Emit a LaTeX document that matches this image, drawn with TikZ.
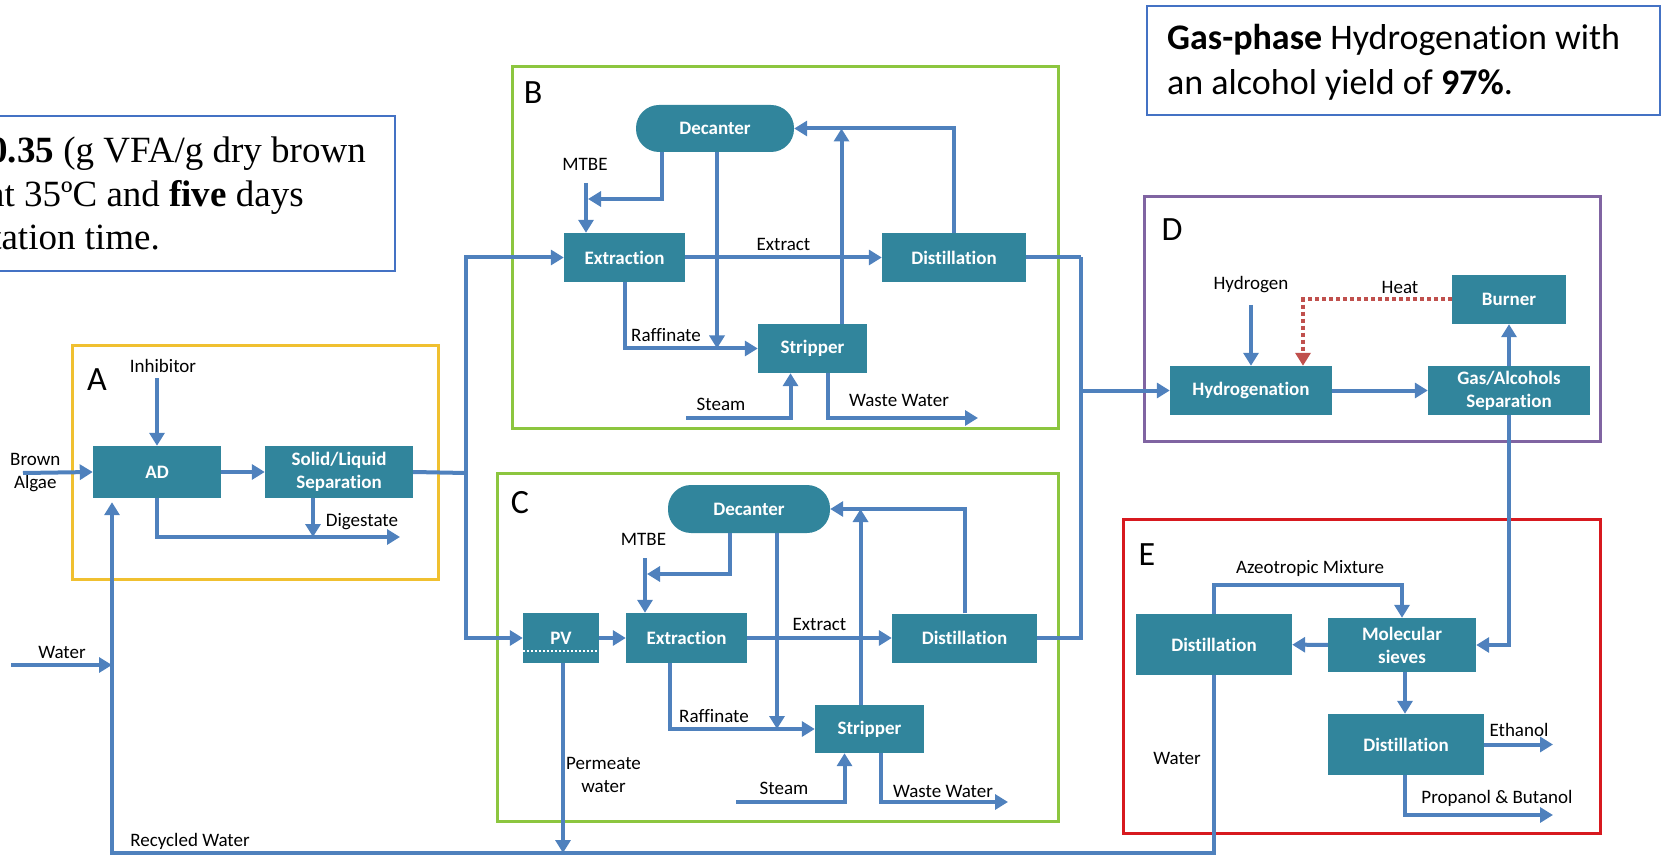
\documentclass[tikz,border=0pt]{standalone}
\usepackage{fontspec}
\setmainfont{Carlito}[Ligatures=NoCommon]
\newfontfamily\timesfont{Liberation Serif}
\usepackage{tikz}
\usetikzlibrary{arrows.meta}
\usetikzlibrary{calc}
\usetikzlibrary{positioning}
\definecolor{unitcol}{HTML}{31859C}
\definecolor{flowcol}{HTML}{4F81BD}
\definecolor{heatcol}{HTML}{C0504D}
\definecolor{notecol}{HTML}{4472C4}
\definecolor{zoneAcol}{HTML}{F0C030}
\definecolor{zoneBcol}{HTML}{8CC63F}
\definecolor{zoneDcol}{HTML}{8064A2}
\definecolor{zoneEcol}{HTML}{D7191F}
\newcommand\labsize{\fontsize{19}{23}\selectfont}
\tikzstyle{unit} = [rectangle, fill=unitcol, text=white, font=\labsize\bfseries,
    inner sep=0pt, text centered]
\tikzstyle{decant} = [unit, rounded corners=23pt]
\tikzstyle{lab} = [font=\labsize, text=black, inner sep=0pt]
\tikzstyle{letter} = [font=\fontsize{34}{40}\selectfont, inner sep=0pt]
\tikzstyle{line} = [draw, flowcol, line width=4pt, -{Triangle[length=13pt,width=15pt]}]
\tikzstyle{pipe} = [draw, flowcol, line width=4pt]
\tikzstyle{heat} = [draw, heatcol, line width=4pt, dash pattern=on 4pt off 3pt,
    -{Triangle[length=13pt,width=15pt]}]
\tikzstyle{zone} = [draw, line width=3pt]
\tikzstyle{note} = [draw, notecol, line width=2pt]

\begin{document}
\begin{tikzpicture}[x=1pt, y=-1pt, every text node part/.style={align=center}]
\useasboundingbox (0,0) rectangle (1662,858);
% notes
	\draw[note] (-10,116) rectangle (395,271);
	\node[anchor=base east, inner sep=0pt, font=\timesfont\fontsize{37}{44}\selectfont] (noteA1) at (366,163) {\textbf{0.35} (g VFA/g dry brown};
	\node[anchor=base east, inner sep=0pt, font=\timesfont\fontsize{37}{44}\selectfont] (noteA2) at (304,207) {at 35ºC and \textbf{five} days};
	\node[anchor=base east, inner sep=0pt, font=\timesfont\fontsize{37}{44}\selectfont] (noteA3) at (160,250) {tation time.};
	\draw[note] (1147,6) rectangle (1660,115);
	\node[anchor=base west, inner sep=0pt, font=\fontsize{36}{43}\selectfont] (noteD1) at (1167,50) {\textbf{Gas-phase} Hydrogenation with};
	\node[anchor=base west, inner sep=0pt, font=\fontsize{36}{43}\selectfont] (noteD2) at (1167,95) {an alcohol yield of \textbf{97\%}.};

% A
	\draw[zone, zoneAcol] (72,346) rectangle (438,579);
	\node[letter] (lA) at (97,380) {A};
	\node[unit, minimum width=128pt, minimum height=52pt] (AD) at (157,472) {AD};
	\node[unit, minimum width=148pt, minimum height=52pt] (sepA) at (339,472) {Solid/Liquid\\Separation};
	\node[lab, anchor=west, align=left] (algae) at (10,473) {Brown\\Algae};
	\node[lab] (inhib) at (163,366) {Inhibitor};
	\node[lab] (digest) at (362,522) {Digestate};
	\coordinate (algIn) at (23,473);
	\coordinate (inhibIn) at (157,378);
	\coordinate (digOut) at (400,537);

	\path [line] (algIn) -- (AD.west);
	\path [line] (inhibIn) -- (AD.north);
	\path [line] (AD) -- (sepA);
	\path [line] (AD.south) |- (digOut);
	\path [line] ([xshift=-26pt]sepA.south) -- ([xshift=-26pt]sepA.south |- digOut);

% B
	\draw[zone, zoneBcol] (512,67) rectangle (1058,428);
	\node[letter] (lB) at (533,93) {B};
	\node[decant, minimum width=158pt, minimum height=47pt] (decB) at (715,128.5) {Decanter};
	\node[unit, minimum width=121pt, minimum height=49pt] (extB) at (624.5,257.5) {Extraction};
	\node[unit, minimum width=144pt, minimum height=49pt] (disB) at (954,257.5) {Distillation};
	\node[unit, minimum width=109pt, minimum height=49pt] (strB) at (812.5,348.5) {Stripper};
	\node[lab] (mtbeB) at (585,164) {MTBE};
	\node[lab] (rafB) at (666,335) {Raffinate};
	\node[lab] (steamBl) at (721,404) {Steam};
	\node[lab] (wasteBl) at (899,400) {Waste Water};
	\coordinate (mtbeBin) at (586,183);
	\coordinate (mtbeBj) at (588,199);
	\coordinate (steamB) at (686,418);
	\coordinate (wasteB) at (978,418);

	\path [line] (mtbeBin) -- (mtbeBin |- extB.north);
	\path [line] ([xshift=-53pt]decB.south) |- (mtbeBj);
	\path [line] ([xshift=2pt]decB.south) -- ([xshift=2pt]decB.south |- strB.west);
	\path [line] (extB) --node[lab, above=5pt]{Extract} (disB);
	\path [line] (extB.south) |- (strB.west);
	\path [line] ([xshift=29pt]strB.north) -- ([xshift=29pt]strB.north |- decB.east);
	\path [line] (disB.north) |- (decB.east);
	\path [line] (steamB) -| ([xshift=-22pt]strB.south);
	\path [line] ([xshift=15pt]strB.south) |- (wasteB);

% C
	\draw[zone, zoneBcol] (497,473) rectangle (1058,821);
	\node[letter] (lC) at (520,503) {C};
	\node[decant, minimum width=162pt, minimum height=48pt] (decC) at (749,509) {Decanter};
	\node[unit, minimum width=76pt, minimum height=50pt] (pv) at (561,638) {PV};
	\node[unit, minimum width=121pt, minimum height=50pt] (extC) at (686.5,638) {Extraction};
	\node[unit, minimum width=145pt, minimum height=49pt] (disC) at (964.5,638) {Distillation};
	\node[unit, minimum width=109pt, minimum height=48pt] (strC) at (869.5,729) {Stripper};
	\node[lab] (mtbeC) at (643.5,539) {MTBE};
	\node[lab] (rafC) at (714,716) {Raffinate};
	\node[lab] (steamCl) at (784,788) {Steam};
	\node[lab] (wasteCl) at (943,791) {Waste Water};
	\node[lab, anchor=west, align=left] (perm) at (566,775) {Permeate\\water};
	\coordinate (mtbeCin) at (645,558);
	\coordinate (mtbeCj) at (647,574);
	\coordinate (steamC) at (736,802);
	\coordinate (wasteC) at (1008,802);

	\draw[white, line width=2pt, dash pattern=on 2pt off 2pt] ([yshift=-13pt]pv.west) -- ([yshift=-13pt]pv.east);
	\path [line] (pv) -- (extC);
	\path [line] (mtbeCin) -- (mtbeCin |- extC.north);
	\path [line] ([xshift=-19pt]decC.south) |- (mtbeCj);
	\path [line] ([xshift=28pt]decC.south) -- ([xshift=28pt]decC.south |- strC.west);
	\path [line] (extC) --node[lab, above=5pt]{Extract} (disC);
	\path [line] ([xshift=-17pt]extC.south) |- (strC.west);
	\path [line] ([xshift=-9pt]strC.north) -- ([xshift=-9pt]strC.north |- decC.east);
	\path [line] (disC.north) |- (decC.east);
	\path [line] (steamC) -| ([xshift=-25pt]strC.south);
	\path [line] ([xshift=11pt]strC.south) |- (wasteC);

% feeds between sections
	\coordinate (jB) at (466,473);
	\coordinate (jD) at (1081,257.5);
	\path [pipe] (sepA.east) -- (jB);
	\path [line] (jB) |- (extB.west);
	\path [line] (jB) |- (pv.west);
	\path [pipe] (disB.east) -- (jD);
	\path [pipe] (disC.east) -| (jD);

% D
	\draw[zone, zoneDcol] (1144,197) rectangle (1600,441);
	\node[letter] (lD) at (1172,230) {D};
	\node[unit, minimum width=162pt, minimum height=49pt] (hyd) at (1251,390.5) {Hydrogenation};
	\node[unit, minimum width=114pt, minimum height=49pt] (burner) at (1509,299.5) {Burner};
	\node[unit, minimum width=162pt, minimum height=49pt] (gas) at (1509,390.5) {Gas/Alcohols\\Separation};
	\node[lab] (h2) at (1251,285) {Hydrogen};
	\node[lab] (heatl) at (1400,287) {Heat};
	\coordinate (h2In) at (1251,305);

	\path [line] (jD |- hyd.west) -- (hyd.west);
	\path [line] (h2In) -- (hyd.north);
	\path [heat] (burner.west) -| ([xshift=52pt]hyd.north);
	\path [line] (hyd) -- (gas);
	\path [line] (gas) -- (burner);

% E
	\draw[zone, zoneEcol] (1123,519) rectangle (1600,833);
	\node[letter] (lE) at (1147,555) {E};
	\node[unit, minimum width=156pt, minimum height=61pt] (disE1) at (1214,644.5) {Distillation};
	\node[unit, minimum width=148pt, minimum height=54pt] (mol) at (1402,645) {Molecular\\sieves};
	\node[unit, minimum width=156pt, minimum height=61pt] (disE2) at (1406,744.5) {Distillation};
	\node[lab] (azeo) at (1310,568) {Azeotropic Mixture};
	\node[lab] (ethl) at (1519,730) {Ethanol};
	\node[lab] (propl) at (1497,798) {Propanol \& Butanol};
	\node[lab] (waterE) at (1177,758) {Water};
	\coordinate (ethOut) at (1553,744.5);
	\coordinate (propOut) at (1553,815);

	\path [line] (gas.south) |- (mol.east);
	\path [line] (disE1.north) -- ++(0,-29) -| (mol.north);
	\path [line] (mol) -- (disE1);
	\path [line] ([xshift=3pt]mol.south) -- ([xshift=3pt]mol.south |- disE2.north);
	\path [line] (disE2.east) -- (ethOut);
	\path [line] ([xshift=-1pt]disE2.south) |- (propOut);

% water recycle
	\node[lab] (waterIn) at (62,652) {Water};
	\node[lab] (recycl) at (190,841) {Recycled Water};
	\coordinate (waterSrc) at (11,665);
	\coordinate (recyc) at (112,853);
	\path [line] (waterSrc) -- (waterSrc -| recyc);
	\path [line] (disE1.south) |- (recyc) -- ([xshift=-45pt, yshift=-4pt]AD.south);
	\path [line] ([xshift=2pt]pv.south) -- ([xshift=2pt]pv.south |- recyc);

\end{tikzpicture}
\end{document}
